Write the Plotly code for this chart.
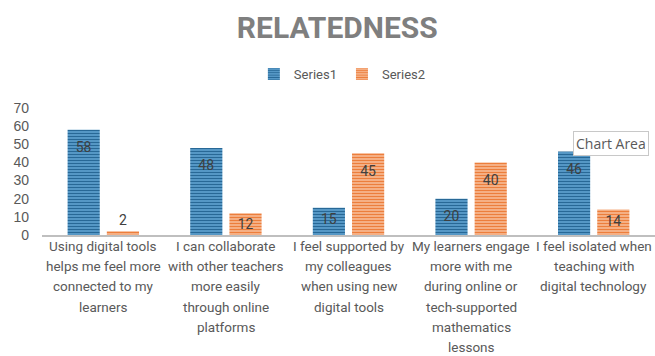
import plotly.graph_objects as go

categories = [
    "Using digital tools<br>helps me feel more<br>connected to my<br>learners",
    "I can collaborate<br>with other teachers<br>more easily<br>through online<br>platforms",
    "I feel supported by<br>my colleagues<br>when using new<br>digital tools",
    "My learners engage<br>more with me<br>during online or<br>tech-supported<br>mathematics<br>lessons",
    "I feel isolated when<br>teaching with<br>digital technology",
]
series1 = [58, 48, 15, 20, 46]
series2 = [2, 12, 45, 40, 14]
y_ticks = [0, 10, 20, 30, 40, 50, 60, 70]

FONT = "Roboto, Arial, sans-serif"

def positions(vals):
    return ["outside" if v < 5 else "inside" for v in vals]

def labels(vals):
    # Excel puts the inside-end label a little lower than Plotly; a tiny
    # leading line pushes tall-bar labels down, short bars keep plain text
    out = []
    for v in vals:
        if v >= 20:
            out.append("<span style='font-size:1px'>\u00a0</span><br>" + str(v))
        else:
            out.append(str(v))
    return out

fig = go.Figure()
fig.add_trace(go.Bar(
    name="Series1", x=categories, y=series1,
    text=labels(series1), textposition=positions(series1),
    insidetextanchor="end", textangle=0,
    textfont=dict(family=FONT, size=14, color="#404040"),
    marker=dict(color="#4A8EBD",
                pattern=dict(shape="-", bgcolor="#5A9CCA", fgcolor="#286896",
                             size=3, solidity=0.4, fillmode="replace"),
                line=dict(width=0)),
))
fig.add_trace(go.Bar(
    name="Series2", x=categories, y=series2,
    text=labels(series2), textposition=positions(series2),
    insidetextanchor="end", textangle=0,
    textfont=dict(family=FONT, size=14, color="#404040"),
    marker=dict(color="#F29A63",
                pattern=dict(shape="-", bgcolor="#F7B58C", fgcolor="#EC7E3C",
                             size=3, solidity=0.4, fillmode="replace"),
                line=dict(width=0)),
))

fig.update_layout(
    width=655, height=356,
    margin=dict(l=42, r=0, t=108, b=121),
    paper_bgcolor="white", plot_bgcolor="white",
    barmode="group", bargap=0.36, bargroupgap=0.18,
    title=dict(text="<b>RELATEDNESS</b>", x=0.515, xanchor="center",
               y=1 - 27.5 / 356, yanchor="middle",
               font=dict(family=FONT, size=30, color="#7F7F7F")),
    legend=dict(orientation="h", x=0.49, xanchor="center",
                y=1.268, yanchor="middle",
                font=dict(family=FONT, size=13, color="#595959"),
                traceorder="normal"),
    showlegend=True,
)
fig.update_xaxes(showgrid=False, showline=True, linecolor="#BFBFBF", linewidth=2,
                 ticks="", showticklabels=False)
fig.update_yaxes(range=[0, 70], tickvals=y_ticks, showgrid=False, zeroline=False,
                 showline=False, ticks="", ticklabelstandoff=12,
                 tickfont=dict(family="Liberation Sans, Arial, sans-serif", size=14, color="#595959"))

# category labels, one annotation per text line (Excel-like line spacing)
for cat in categories:
    for i, line in enumerate(cat.split("<br>")):
        fig.add_annotation(text=line, x=cat, xref="x", y=0, yref="y",
                           xanchor="center", yanchor="middle",
                           yshift=-(11 + 20.2 * i), showarrow=False,
                           font=dict(family=FONT, size=13.5, color="#595959"))

fig.add_annotation(text="Chart Area", xref="paper", yref="paper",
                   x=0.928, y=0.724, xanchor="center", yanchor="middle",
                   showarrow=False, bgcolor="white", bordercolor="#C8C8C8",
                   borderwidth=1, borderpad=2,
                   font=dict(family="Open Sans, sans-serif", size=14, color="#595959"))

fig.write_html("out.html")
